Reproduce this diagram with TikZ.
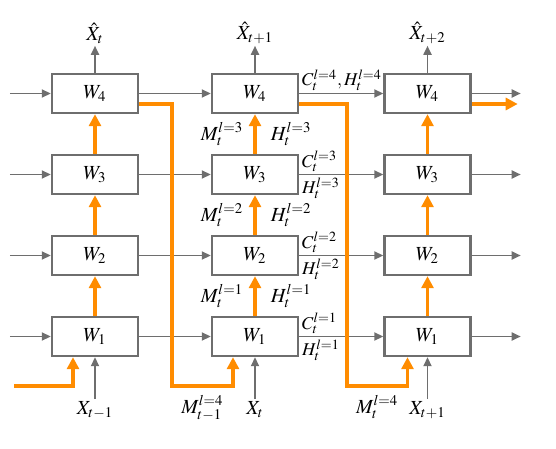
\documentclass[tikz,border=0pt]{standalone}
\usepackage{mathptmx}
\usepackage{tikz}
\usetikzlibrary{arrows.meta, positioning}
\definecolor{cellgray}{HTML}{6E6E6E}
\definecolor{floworange}{HTML}{FF8C00}
\tikzset{
  cellbox/.style={draw=cellgray, line width=1.2pt, fill=white, minimum width=43pt,
    minimum height=19.5pt, inner sep=0pt, font=\normalsize},
  grayarrow/.style={-{Triangle[length=4.5pt, width=4pt]}, line width=0.9pt, cellgray},
  orarrow/.style={-{Triangle[length=6pt, width=6pt]}, line width=1.8pt, floworange},
  statelabel/.style={inner sep=1pt, font=\normalsize, text=black},
  hlabel/.style={inner sep=1pt, font=\small, text=black},
}

\begin{document}
\begin{tikzpicture}[x=0.5pt, y=-0.5pt]
  \useasboundingbox (0,0) rectangle (556,449);
  % cells: column a = t-1, b = t, c = t+1
  \foreach \c/\x in {a/95,b/255,c/427.5}
    \foreach \l/\y in {1/336.5,2/255.5,3/174.5,4/93.5}
      \node[cellbox] (\c\l) at (\x,\y) {$W_{\l}$};
  % predictions and inputs
  \foreach \c/\t in {a/t, b/t+1, c/t+2} {
    \node[statelabel, above=13.5pt of \c4] (y\c) {$\hat{X}_{\t}$};
    \draw[grayarrow] (\c4) -- (y\c);
  }
  \foreach \c/\t in {a/t-1, b/t, c/t+1} {
    \node[statelabel, below=21pt of \c1] (x\c) {$X_{\t}$};
    \draw[grayarrow] (x\c) -- (\c1);
  }
  % horizontal state flow
  \foreach \l in {1,...,4} {
    \draw[grayarrow] ([xshift=-20.5pt]a\l.west) -- (a\l.west);
    \draw[grayarrow] (a\l) -- (b\l);
    \draw[grayarrow] (c\l.east) -- ++(24.5pt,0);
  }
  \foreach \l in {1,2,3}
    \draw[grayarrow] (b\l) -- node[pos=0, hlabel, above right] {$C_t^{l=\l}$}
      node[pos=0, hlabel, below right] {$H_t^{l=\l}$} (c\l);
  \draw[grayarrow] (b4) -- node[pos=0, hlabel, above right] {$C_t^{l=4},H_t^{l=4}$} (c4);
  % spatiotemporal memory flow
  \foreach \c in {a,c}
    \foreach \l/\m in {1/2,2/3,3/4}
      \draw[orarrow] (\c\l) -- (\c\m);
  \foreach \l/\m in {1/2,2/3,3/4}
    \draw[orarrow] (b\l) -- node[statelabel, left=4pt] {$M_t^{l=\l}$}
      node[statelabel, right=6pt] {$H_t^{l=\l}$} (b\m);
  \coordinate (k0) at (14,386);
  \coordinate (ka) at (172,386);
  \coordinate (kb) at (347,386);
  \draw[orarrow] (k0) -| ([xshift=-11pt]a1.south);
  \draw[orarrow] ([yshift=-5.25pt]a4.east) -| (ka) -| node[pos=0.25, statelabel, below=3pt] {$M_{t-1}^{l=4}$} ([xshift=-11pt]b1.south);
  \draw[orarrow] ([yshift=-5.25pt]b4.east) -| (kb) -| node[pos=0.25, statelabel, below=3pt] {$M_{t}^{l=4}$} ([xshift=-10pt]c1.south);
  \draw[orarrow] ([yshift=-5.25pt]c4.east) -- ++(23pt,0);
\end{tikzpicture}
\end{document}
